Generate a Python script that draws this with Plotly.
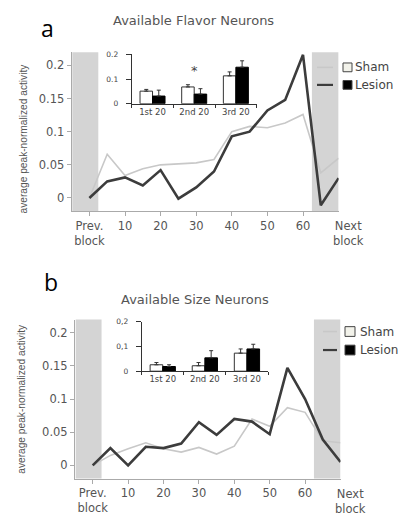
import plotly.graph_objects as go

# ---------------- data ----------------
trial_x = [0, 5, 10, 15, 20, 25, 30, 35, 40, 45, 50, 55, 60, 65, 70]
tick_vals = [0, 10, 20, 30, 40, 50, 60]
tick_text = ["Prev.<br>block", "10", "20", "30", "40", "50", "60"]
next_label = "Next<br>block"

flavor_sham = [0, 0.066, 0.034, 0.044, 0.050, 0.051, 0.053, 0.058, 0.100, 0.108, 0.106, 0.113, 0.126, 0.038, 0.060]
flavor_lesion = [0, 0.025, 0.031, 0.019, 0.042, -0.001, 0.016, 0.040, 0.093, 0.100, 0.132, 0.148, 0.216, -0.011, 0.030]

size_sham = [0, 0.015, 0.025, 0.034, 0.025, 0.020, 0.027, 0.017, 0.029, 0.070, 0.059, 0.087, 0.080, 0.037, 0.034]
size_lesion = [0, 0.026, 0.000, 0.028, 0.026, 0.033, 0.065, 0.046, 0.070, 0.066, 0.047, 0.147, 0.100, 0.039, 0.005]

inset_cats = ["1st 20", "2nd 20", "3rd 20"]
flavor_inset_sham = [0.051, 0.068, 0.113]
flavor_inset_sham_err = [0.007, 0.009, 0.016]
flavor_inset_lesion = [0.031, 0.039, 0.148]
flavor_inset_lesion_err = [0.024, 0.022, 0.026]

size_inset_sham = [0.026, 0.022, 0.073]
size_inset_sham_err = [0.009, 0.013, 0.017]
size_inset_lesion = [0.019, 0.054, 0.090]
size_inset_lesion_err = [0.007, 0.029, 0.019]

main_yticks = [0, 0.05, 0.1, 0.15, 0.2]
main_yticktext = ["0", "0.05", "0.1", "0.15", "0.2"]
inset_yticks = [0, 0.1, 0.2]
inset_a_yticktext = ["0", "0.1", "0.2"]
inset_b_yticktext = ["0", "0,1", "0,2"]

# ---------------- style ----------------
W, H = 409, 515
SHAM_C = "#c8c8c8"
LES_C = "#3c3c3c"
SHADE = "#d4d4d4"
TXT = "#555555"
FONT = "DejaVu Sans"


def px_x(p):
    return p / W


def px_y(p):
    return 1 - p / H


fig = go.Figure()

# main lines panel a
fig.add_trace(go.Scatter(x=trial_x, y=flavor_sham, mode="lines", line=dict(color=SHAM_C, width=1.6),
                         xaxis="x", yaxis="y", showlegend=False))
fig.add_trace(go.Scatter(x=trial_x, y=flavor_lesion, mode="lines", line=dict(color=LES_C, width=2.6),
                         xaxis="x", yaxis="y", showlegend=False))
# main lines panel b
fig.add_trace(go.Scatter(x=trial_x, y=size_sham, mode="lines", line=dict(color=SHAM_C, width=1.6),
                         xaxis="x3", yaxis="y3", showlegend=False))
fig.add_trace(go.Scatter(x=trial_x, y=size_lesion, mode="lines", line=dict(color=LES_C, width=2.6),
                         xaxis="x3", yaxis="y3", showlegend=False))

# insets
def add_inset(xa, ya, sham, sham_err, les, les_err):
    fig.add_trace(go.Bar(x=inset_cats, y=sham, marker=dict(color="white", line=dict(color="#333", width=1)),
                         error_y=dict(type="data", array=sham_err, arrayminus=[0] * 3, symmetric=False,
                                      color="#333", thickness=1, width=2),
                         xaxis=xa, yaxis=ya, showlegend=False))
    fig.add_trace(go.Bar(x=inset_cats, y=les, marker=dict(color="black", line=dict(color="black", width=1)),
                         error_y=dict(type="data", array=les_err, arrayminus=[0] * 3, symmetric=False,
                                      color="#333", thickness=1, width=2),
                         xaxis=xa, yaxis=ya, showlegend=False))


add_inset("x2", "y2", flavor_inset_sham, flavor_inset_sham_err, flavor_inset_lesion, flavor_inset_lesion_err)
add_inset("x4", "y4", size_inset_sham, size_inset_sham_err, size_inset_lesion, size_inset_lesion_err)

main_x = dict(range=[-5, 70], tickvals=tick_vals, ticktext=tick_text, showline=True, linecolor="#aaaaaa",
              linewidth=1, ticks="outside", ticklen=4, tickcolor="#aaaaaa", showgrid=False, zeroline=False,
              tickfont=dict(family=FONT, size=11.5, color=TXT))
main_y = dict(range=[-0.02, 0.22], tickvals=main_yticks, ticktext=main_yticktext, showline=True,
              linecolor="#aaaaaa", linewidth=1, ticks="outside", ticklen=4, tickcolor="#aaaaaa",
              showgrid=False, zeroline=False, tickfont=dict(family=FONT, size=11.5, color=TXT))
inset_x = dict(type="category", tickson="boundaries", showline=True, linecolor="#333", linewidth=1,
               ticks="outside", ticklen=3, tickcolor="#333", showgrid=False, zeroline=False,
               range=[-0.5, 2.5], tickfont=dict(family=FONT, size=8.5, color="#444"))
inset_y = dict(range=[0, 0.2], tickvals=inset_yticks, showline=True, linecolor="#333", linewidth=1,
               ticks="outside", ticklen=5, tickcolor="#333", showgrid=False, zeroline=False,
               ticklabelstandoff=6, tickfont=dict(family=FONT, size=7.5, color="#444"))

fig.update_layout(
    width=W, height=H, autosize=False, margin=dict(l=0, r=0, t=0, b=0),
    paper_bgcolor="white", plot_bgcolor="rgba(0,0,0,0)",
    barmode="group", bargap=0.4, bargroupgap=0,
    xaxis=dict(domain=[px_x(71.6), px_x(338.6)], anchor="y", **main_x),
    yaxis=dict(domain=[px_y(212.6), px_y(49.4)], anchor="x", **main_y),
    xaxis3=dict(domain=[px_x(75.0), px_x(340.5)], anchor="y3", **main_x),
    yaxis3=dict(domain=[px_y(486.9), px_y(323.7)], anchor="x3", **main_y),
    xaxis2=dict(domain=[px_x(131.7), px_x(256.7)], anchor="y2", **inset_x),
    yaxis2=dict(domain=[px_y(102.3), px_y(51.7)], anchor="x2", ticktext=inset_a_yticktext, **inset_y),
    xaxis4=dict(domain=[px_x(141.7), px_x(268.0)], anchor="y4", **inset_x),
    yaxis4=dict(domain=[px_y(376.7), px_y(326.0)], anchor="x4", ticktext=inset_b_yticktext, **inset_y),
)

shapes = []
for xr, yr in (("x", "y"), ("x3", "y3")):
    shapes.append(dict(type="rect", xref=xr, yref=yr + " domain", x0=-4.8, x1=2.5, y0=0, y1=1,
                       fillcolor=SHADE, line=dict(width=0), layer="below"))
    shapes.append(dict(type="rect", xref=xr, yref=yr + " domain", x0=62.5, x1=70, y0=0, y1=1,
                       fillcolor=SHADE, line=dict(width=0), layer="below"))

annotations = []

# legends (drawn manually)
def legend(y_sham, y_les, lx0, lx1, bx0, bsize, tx):
    for yy, lc, fill, name in ((y_sham, SHAM_C, "#f2f2ea", "Sham"), (y_les, LES_C, "black", "Lesion")):
        shapes.append(dict(type="line", xref="paper", yref="paper", x0=px_x(lx0), x1=px_x(lx1),
                           y0=px_y(yy), y1=px_y(yy), line=dict(color=lc, width=1.6 if name == "Sham" else 2.2)))
        shapes.append(dict(type="rect", xref="paper", yref="paper", x0=px_x(bx0), x1=px_x(bx0 + bsize),
                           y0=px_y(yy + bsize / 2), y1=px_y(yy - bsize / 2), fillcolor=fill,
                           line=dict(color="#444", width=1)))
        annotations.append(dict(text=name, xref="paper", yref="paper", x=px_x(tx), y=px_y(yy),
                                xanchor="left", yanchor="middle", showarrow=False,
                                font=dict(family=FONT, size=12, color="#444")))


legend(65, 83, 317, 333, 343, 9, 353)
legend(336, 355, 323, 337, 345, 10, 358)

# panel letters and titles
annotations += [
    dict(text="a", x=px_x(39), y=px_y(25), xanchor="left", yanchor="middle", xref="paper", yref="paper",
         showarrow=False, font=dict(family="Open Sans", size=23, color="black")),
    dict(text="b", x=px_x(42), y=px_y(285), xanchor="left", yanchor="middle", xref="paper", yref="paper",
         showarrow=False, font=dict(family="Open Sans", size=23, color="black")),
    dict(text="Available Flavor Neurons", x=px_x(193), y=px_y(17), xanchor="center", yanchor="middle",
         xref="paper", yref="paper", showarrow=False, font=dict(family=FONT, size=13, color=TXT)),
    dict(text="Available Size Neurons", x=px_x(195), y=px_y(303), xanchor="center", yanchor="middle",
         xref="paper", yref="paper", showarrow=False, font=dict(family=FONT, size=13, color=TXT)),
    dict(text="average peak-normalized activity", x=px_x(24), y=px_y(138), textangle=-90,
         xanchor="center", yanchor="middle", xref="paper", yref="paper", showarrow=False,
         font=dict(family="Liberation Sans", size=10.2, color=TXT)),
    dict(text="average peak-normalized activity", x=px_x(22), y=px_y(405), textangle=-90,
         xanchor="center", yanchor="middle", xref="paper", yref="paper", showarrow=False,
         font=dict(family="Liberation Sans", size=10.2, color=TXT)),
    dict(text=next_label, x=px_x(348), xref="paper", y=px_y(219), yref="paper", xanchor="center",
         yanchor="top", showarrow=False, font=dict(family=FONT, size=11.5, color=TXT)),
    dict(text=next_label, x=px_x(350), xref="paper", y=px_y(493), yref="paper", xanchor="center",
         yanchor="top", showarrow=False, font=dict(family=FONT, size=11.5, color=TXT)),
    dict(text="*", x="2nd 20", xref="x2", y=0.136, yref="y2", showarrow=False,
         font=dict(family=FONT, size=13, color="#444")),
]

fig.update_layout(shapes=shapes, annotations=annotations)
fig.write_html("out.html")
